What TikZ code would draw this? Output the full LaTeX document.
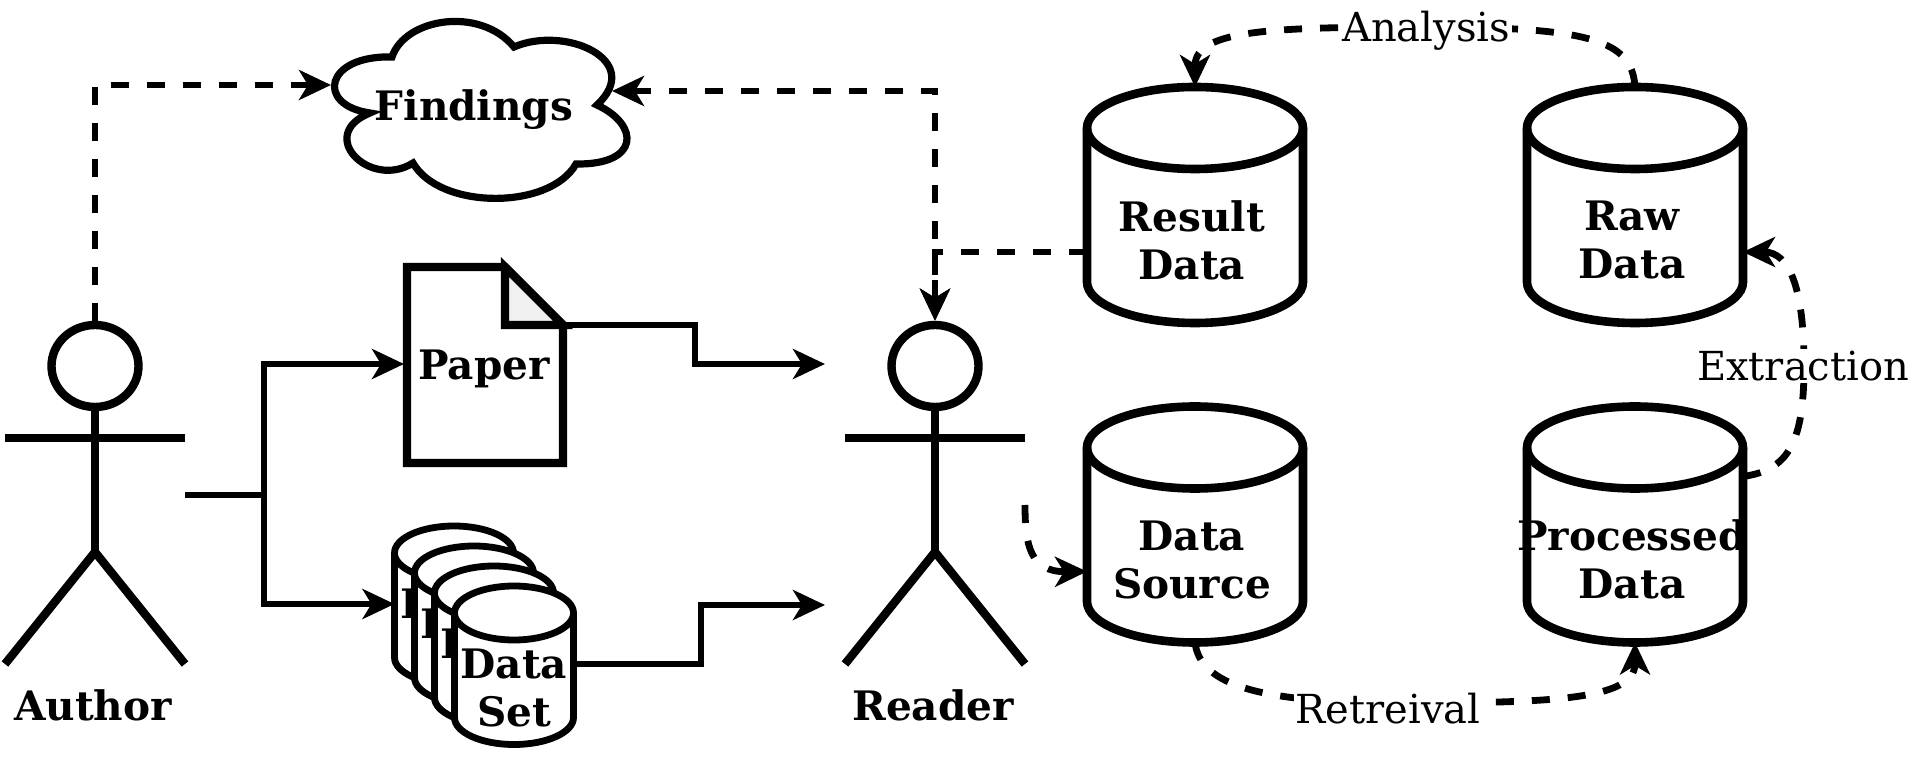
\documentclass[tikz,border=0pt]{standalone}
\usepackage{fontspec}
\setmainfont{DejaVu Serif}
\usetikzlibrary{arrows.meta,shapes.geometric}
\newcommand{\drum}[5]{
    \draw[#5, fill=white] (#1.north west) ++(0,#3) arc[start angle=180, end angle=360, x radius=#2, y radius=#3]
        -- ++(0,#4-2*#3) arc[start angle=0, end angle=180, x radius=#2, y radius=#3] -- cycle;
    \draw[#5] (#1.north west) ++(0,#3) arc[start angle=180, end angle=0, x radius=#2, y radius=#3];
}
\begin{document}
\begin{tikzpicture}[x=0.5pt,y=-0.5pt]
    \tikzstyle{headtip} = [-{Stealth[length=16pt,width=15pt,inset=4.5pt]}]
    \tikzstyle{conn} = [line width=3.4pt, headtip]
    \tikzstyle{dashconn} = [line width=3.4pt, dash pattern=on 9pt off 9pt, headtip]
    \tikzstyle{boldtext} = [font=\fontsize{20.3}{24}\selectfont\bfseries, align=center, inner sep=0pt]
    \tikzstyle{steplabel} = [font=\fontsize{20}{24}\selectfont, fill=white, inner sep=1pt]
    \tikzstyle{dbbox} = [minimum width=108pt, minimum height=118pt, inner sep=0pt, outer sep=0pt]
    \tikzstyle{setbox} = [minimum width=59.5pt, minimum height=78pt, inner sep=0pt, outer sep=0pt]
    \tikzstyle{limb} = [line width=4.2pt]
    \useasboundingbox (0,0) rectangle (1910,774);

    \foreach \who/\x/\txt in {author/95/Author,reader/935/Reader} {
        \node[draw, limb, ellipse, minimum width=43.5pt, minimum height=41pt, inner sep=0pt] (\who head) at (\x,366) {};
        \coordinate (\who hip) at (\x,552);
        \coordinate (\who left) at (\x-90,438);
        \coordinate (\who right) at (\x+90,438);
        \coordinate (\who lfoot) at (\x-90,664);
        \coordinate (\who rfoot) at (\x+90,664);
        \draw[limb] (\who head.south) -- (\who hip);
        \draw[limb] (\who left) -- (\who right);
        \draw[limb] (\who lfoot) -- (\who hip) -- (\who rfoot);
        \node[boldtext] (\who) at (\x-2,705) {\txt};
    }

    \draw[line width=3.6pt, fill=white] (392,57) .. controls (405,18) and (480,6) .. (514,47)
        .. controls (565,25) and (645,60) .. (597,105)
        .. controls (640,125) and (640,165) .. (576,164)
        .. controls (550,210) and (440,210) .. (413,163)
        .. controls (370,190) and (315,135) .. (370,113)
        .. controls (315,105) and (325,55) .. (392,57) -- cycle;
    \node[boldtext] (findings) at (474,110) {Findings};
    \coordinate (cloudleft) at (331,85);
    \coordinate (cloudright) at (612,91);

    \coordinate (papercorner) at (563,325);
    \coordinate (paperarrow) at (404,364);
    \draw[limb, line join=miter] (407,267) -- (505,267) -- (papercorner) -- (563,463) -- (407,463) -- cycle;
    \draw[limb, fill=black!6, line join=miter] (505,267) -- (505,325) -- (papercorner) -- cycle;
    \node[boldtext] (paper) at (484,369) {Paper};

    \foreach \i/\x/\y in {1/454/604,2/474/624,3/494/644,4/514/664} {
        \node[setbox] (dataset\i) at (\x,\y) {};
        \drum{dataset\i}{59.5}{27}{158.5}{line width=3.4pt}
        \node[boldtext] (settext\i) at (\x,\y+24) {Data\\Set};
    }

    \foreach \db/\x/\y/\txt in {result/1195/205/{Result\\Data},raw/1635/205/{Raw\\Data},
                                source/1195/524.5/{Data\\Source},processed/1635/524.5/{Processed\\Data}} {
        \node[dbbox] (\db) at (\x,\y) {};
        \drum{\db}{108}{41}{236}{line width=4.3pt}
        \node[boldtext] (\db text) at (\x-3,\y+35) {\txt};
    }

    \coordinate (authorout) at (185,495);
    \coordinate (authorfork) at (264,495);
    \coordinate (paperbend) at (695,364);
    \coordinate (paperin) at (825,364);
    \coordinate (setbend) at (701,605);
    \coordinate (setin) at (825,605);
    \coordinate (readerout) at (1025,505);

    \draw[conn] (authorout) -- (authorfork) |- (paperarrow);
    \draw[conn] (authorfork) |- (dataset1.west);
    \draw[conn] (papercorner) -| (paperbend) -- (paperin);
    \draw[conn] (dataset4.east) -| (setbend) -- (setin);

    \draw[dashconn] (authorhead.north) |- (cloudleft);
    \draw[dashconn, {Stealth[length=16pt,width=15pt,inset=4.5pt]}-{Stealth[length=16pt,width=15pt,inset=4.5pt]}] (cloudright) -| (readerhead.north);
    \draw[dashconn] ([yshift=-23.5pt]result.west) -| (readerhead.north);

    \draw[dashconn] (raw.north) .. controls (1632,40) and (1590,27) .. (1425,27)
        .. controls (1270,27) and (1195,30) .. (result.north);
    \node[steplabel] (analysis) at (1426,31) {Analysis};
    \draw[dashconn] ([yshift=24pt]processed.east) .. controls (1790,470) and (1804,440) .. (1804,365)
        .. controls (1804,290) and (1790,252) .. ([yshift=-23.5pt]raw.east);
    \node[steplabel] (extraction) at (1803,366) {Extraction};
    \draw[dashconn] (source.south) .. controls (1200,685) and (1260,703) .. (1400,703)
        .. controls (1550,703) and (1635,700) .. (processed.south);
    \node[steplabel] (retreival) at (1388,709) {Retreival};
    \draw[dashconn] (readerout) .. controls (1025,545) and (1030,572) .. ([yshift=-23.5pt]source.west);
\end{tikzpicture}
\end{document}
